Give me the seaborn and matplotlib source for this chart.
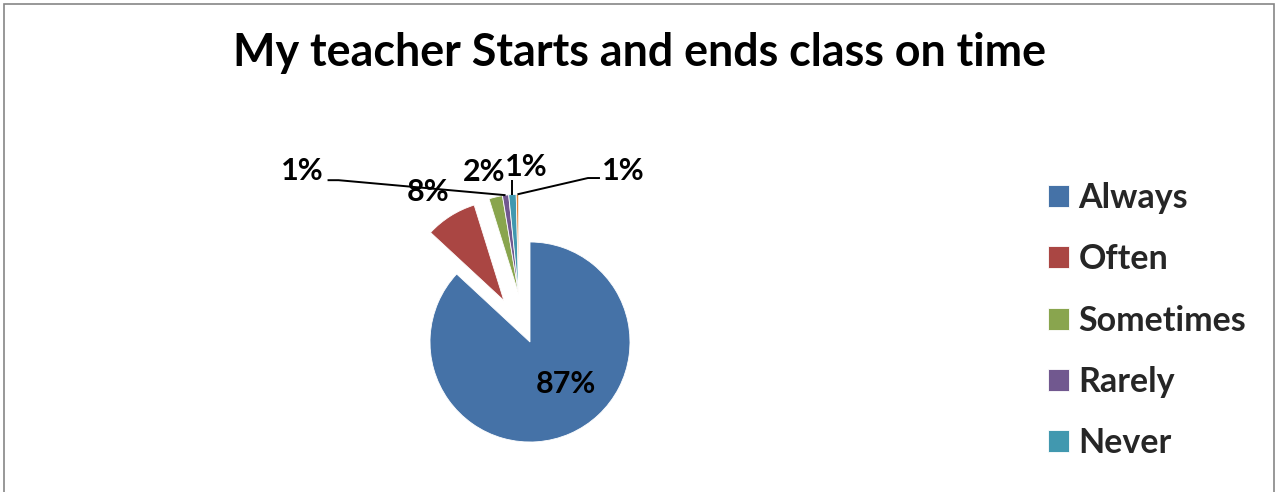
import matplotlib
matplotlib.use("Agg")
import matplotlib.pyplot as plt
import seaborn as sns
import numpy as np
from matplotlib.patches import Rectangle

sns.set_theme(style="white")
plt.rcParams['font.family'] = ['Lato', 'DejaVu Sans']

# ---- data ----
categories = ["Always", "Often", "Sometimes", "Rarely", "Never", "No response"]
values = [86.9, 8.3, 2.2, 1.0, 1.2, 0.4]
pct_labels = ["87%", "8%", "2%", "1%", "1%", "1%"]
legend_categories = ["Always", "Often", "Sometimes", "Rarely", "Never"]
title = "My teacher Starts and ends class on time"

colors = ["#4572A7", "#AA4643", "#89A54E", "#71588F", "#4198AF", "#DB843D"]

W, H = 1279, 492
fig = plt.figure(figsize=(W / 100, H / 100), dpi=100)
ax = fig.add_axes([0, 0, 1, 1])

cx, cy, R = 530, H - 342, 100
explode = [0, 49, 49, 49, 49, 49]
wedges, _ = ax.pie(values, colors=colors, startangle=90, counterclock=False,
                   explode=explode, center=(cx, cy), radius=R,
                   wedgeprops=dict(edgecolor="white", linewidth=0.6))
# the small slices are pulled out together, sharing one apex
for w in wedges[3:]:
    w.set_center(wedges[2].center)
ax.set_aspect("auto")
ax.set_xlim(0, W)
ax.set_ylim(0, H)
ax.axis("off")

# border
ax.add_patch(Rectangle((3.5, -10), 1270, H - 3.5 + 10, fill=False,
                       edgecolor="#868686", linewidth=1.2, clip_on=False))

# title
ax.text(W / 2, H - 66, title, ha="center", va="baseline",
        fontsize=32.3, fontweight="bold", color="black")

def outer_point(w, frac=1.0):
    mid = np.deg2rad((w.theta1 + w.theta2) / 2)
    return (w.center[0] + frac * w.r * np.cos(mid),
            w.center[1] + frac * w.r * np.sin(mid))

lab_kw = dict(fontsize=22, fontweight="bold", color="black", ha="center", va="center")

# Always label inside
ax.text(cx + 36, cy - 42, pct_labels[0], **lab_kw)

# Often and Sometimes labels above wedges
for i, (dx, dy) in zip([1, 2], [(-22, 24), (-12, 25)]):
    px, py = outer_point(wedges[i], 1.0)
    ax.text(px + dx, py + dy, pct_labels[i], **lab_kw)

# leader-line labels (offsets from wedge outer mid-point, y up)
leader = {3: [(-167, 15), (-178, 15), (-203, 24)],
          4: [(0, 14.5), (0, 14.5), (14, 27.5)],
          5: [(70.5, 16.3), (82.5, 16.3), (105.5, 23.3)]}
for i, pts in leader.items():
    ox, oy = outer_point(wedges[i], 1.0)
    xs = [ox] + [ox + p[0] for p in pts[:2]]
    ys = [oy] + [oy + p[1] for p in pts[:2]]
    ax.plot(xs, ys, color="black", linewidth=1.4, solid_capstyle="butt")
    ax.text(ox + pts[2][0], oy + pts[2][1], pct_labels[i], **lab_kw)

# legend
fs = 24.5
leg = ax.legend(wedges[:5], legend_categories, loc="upper left",
                bbox_to_anchor=(1048 / W, 1 - 182 / H), frameon=False,
                borderaxespad=0, borderpad=0,
                prop=dict(size=fs, weight="bold"), handlelength=0.62,
                handleheight=0.62, handletextpad=0.27, labelspacing=0.86)

fig.savefig("out.png", dpi=100, facecolor="white")
